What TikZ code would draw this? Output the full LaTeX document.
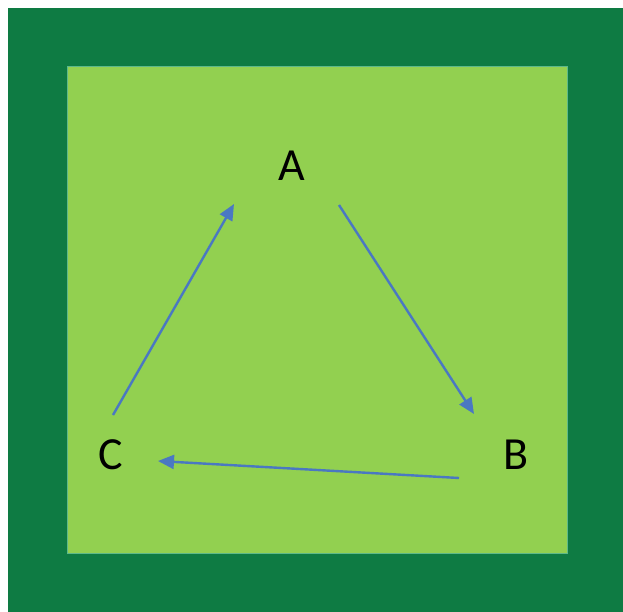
\documentclass[tikz,border=0pt]{standalone}
\usepackage{fontspec}
\setmainfont{Carlito}
\usetikzlibrary{arrows.meta}
\definecolor{darkgr}{HTML}{0E7B43}
\definecolor{lightgr}{HTML}{92D050}
\definecolor{edgegr}{HTML}{5DB98A}
\definecolor{arrowbl}{HTML}{4A78C2}
\begin{document}
\begin{tikzpicture}[x=1pt,y=-1pt,
  lbl/.style={font=\fontsize{46}{55}\selectfont, text=black, inner sep=0pt},
  conn/.style={draw=arrowbl, line width=2.4pt, -{Triangle[length=16pt,width=14pt]}}]
\useasboundingbox (0,0) rectangle (623,612);
\fill[darkgr] (8,8) rectangle (623,612);
\fill[lightgr, draw=edgegr, line width=1pt] (67,67) rectangle (567,553);
\node[lbl] (A) at (292,166) {A};
\node[lbl] (B) at (516,455) {B};
\node[lbl] (C) at (111,455) {C};
\coordinate (a1) at (339,205);
\coordinate (b1) at (474,414);
\coordinate (b2) at (459,478);
\coordinate (c1) at (158,461);
\coordinate (c2) at (113,415);
\coordinate (a2) at (234,204);
\draw[conn] (a1) -- (b1);
\draw[conn] (b2) -- (c1);
\draw[conn] (c2) -- (a2);
\end{tikzpicture}
\end{document}
